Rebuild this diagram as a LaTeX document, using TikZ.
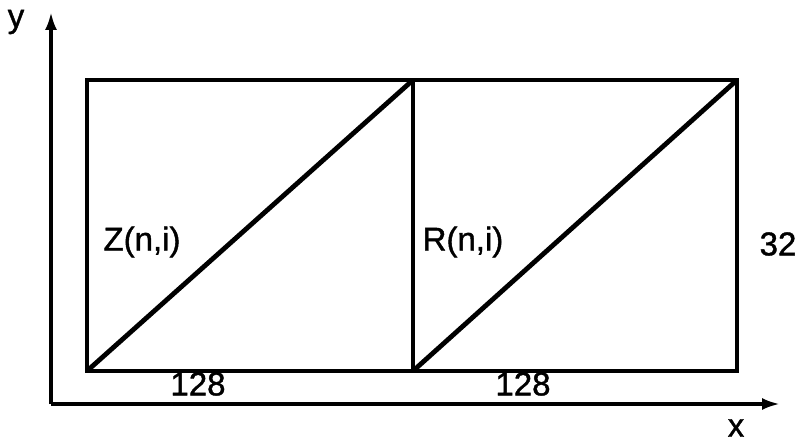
\documentclass[tikz,border=0pt]{standalone}
\usepackage{fontspec}
\setmainfont{Liberation Sans}[FakeBold=1.2]
\usetikzlibrary{arrows.meta}
\begin{document}
\begin{tikzpicture}[x=1pt,y=-1pt,
  frame/.style={line width=3.4pt},
  diag/.style={line width=4.8pt},
  axis/.style={line width=3.4pt,-{Latex[length=18pt,width=12pt]}},
  lbl/.style={font=\fontsize{33}{36}\selectfont,inner sep=0pt}]
\useasboundingbox (0,0) rectangle (798,444);
\coordinate (O) at (51,404);
\coordinate (ytip) at (51,12);
\coordinate (xtip) at (780,404);
\coordinate (bl) at (87,371);
\coordinate (bm) at (413,371);
\coordinate (br) at (737,371);
\coordinate (tl) at (87,80);
\coordinate (tm) at (413,80);
\coordinate (tr) at (737,80);
\draw[axis] (O) -- (ytip);
\draw[axis] (O) -- (xtip);
\draw[frame] (bl) rectangle (tr);
\draw[frame] (bm) -- (tm);
\draw[diag] (bl) -- (tm);
\draw[diag] (bm) -- (tr);
\node[lbl] (ly) at (16,22) {y};
\node[lbl] (lx) at (736,428) {x};
\node[lbl] (lz) at (142,242) {Z(n,i)};
\node[lbl] (lr) at (463,242) {R(n,i)};
\node[lbl] (l32) at (778,244) {32};
\node[lbl] (l1) at (198,384) {128};
\node[lbl] (l2) at (523,384) {128};
\end{tikzpicture}
\end{document}
